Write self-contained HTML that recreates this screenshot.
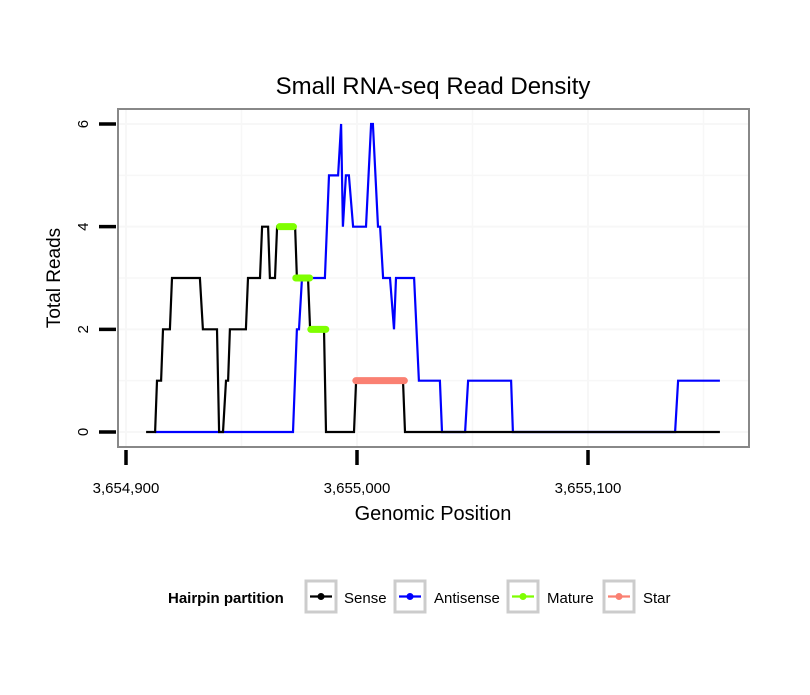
<!DOCTYPE html>
<html><head><meta charset="utf-8"><style>
body{margin:0;background:#fff;}
svg text{font-family:"Liberation Sans",sans-serif;}
</style></head><body>
<svg id="chart" width="810" height="690" viewBox="0 0 810 690">
<rect width="810" height="690" fill="#fff"/>
<text x="433" y="94" font-size="24" text-anchor="middle">Small RNA-seq Read Density</text>
<rect x="118" y="109" width="631" height="338" fill="#fff"/>
<g id="grid"></g>
<g id="marks"></g>
<rect x="118" y="109" width="631" height="338" fill="none" stroke="#888" stroke-width="2"/>
<g id="axes"></g>
<text x="433" y="520" font-size="20" text-anchor="middle">Genomic Position</text>
<text transform="translate(60,278) rotate(-90)" font-size="19" text-anchor="middle">Total Reads</text>
<g>
<text x="168" y="603" font-size="15" font-weight="bold">Hairpin partition</text>
<g id="legend"></g>
</g>
</svg>
<script>
const BASE = 3654900;
const xTicks = [3654900, 3655000, 3655100];
const xTickLabels = ["3,654,900", "3,655,000", "3,655,100"];
const yTicks = [0, 2, 4, 6];
const senseX = [8.7,12.6,13.4,15.2,16.0,19.0,19.9,32.0,33.3,39.4,40.3,42.0,43.3,44.2,45.0,51.9,52.8,58.0,58.9,61.5,62.3,64.5,65.4,73.2,74.0,78.8,79.7,85.7,86.6,98.7,99.6,119.9,120.8,257.1];
const senseY = [0,0,1,1,2,2,3,3,2,2,0,0,1,1,2,2,3,3,4,4,3,3,4,4,3,3,2,2,0,0,1,1,0,0];
const antiX = [12.6,72.3,74.0,74.9,76.2,86.1,87.9,91.8,93.1,93.9,95.2,96.5,98.3,103.9,106.1,106.9,109.1,110.0,111.3,114.3,116.0,116.9,124.7,126.8,135.9,136.8,146.8,148.1,166.7,167.5,237.7,239.0,257.1];
const antiY = [0,0,2,2,3,3,5,5,6,4,5,5,4,4,6,6,4,4,3,3,2,3,3,1,1,0,0,1,1,0,0,1,1];
const matureStart = [66.5, 73.5, 80.0];
const matureEnd = [72.5, 79.5, 86.5];
const matureVal = [4, 3, 2];
const starStart = [99.5];
const starEnd = [120.5];
const starVal = [1];
const legendLabels = ["Sense","Antisense","Mature","Star"];
const legendColors = ["#000","#0000ff","#7fff00","#fa8072"];

const NS="http://www.w3.org/2000/svg";
const sx = v => 126 + (v - BASE) * 2.31;
const sxo = o => sx(BASE + o);
const sy = v => 432 - v * 51.33;
function mk(tag, attrs, parent){const e=document.createElementNS(NS,tag);for(const k in attrs)e.setAttribute(k,attrs[k]);parent.appendChild(e);return e;}
const grid=document.getElementById('grid'), marks=document.getElementById('marks'), axes=document.getElementById('axes'), legend=document.getElementById('legend');
for(let v=BASE-50; v<=BASE+300; v+=50){const x=sx(v); if(x<119||x>748) continue;
  const l=mk('line',{x1:x,x2:x,y1:110,y2:446,stroke:'#f7f7f7','stroke-width':v%100===0?2:1.5},grid);
  
  }
for(let v=0; v<=6; v++){const y=sy(v);
  const l=mk('line',{x1:119,x2:748,y1:y,y2:y,stroke:'#f7f7f7','stroke-width':v%2===0?2:1.5},grid);
  
  }
function poly(xs, ys, color, name){
  const pts = xs.map((x,i)=>sxo(x).toFixed(1)+','+sy(ys[i]).toFixed(1)).join(' ');
  const p=mk('polyline',{points:pts,fill:'none',stroke:color,'stroke-width':2.2,'stroke-linejoin':'miter'},marks);
  
  
}
poly(antiX, antiY, '#0000ff', 'antisense-line');
poly(senseX, senseY, '#000', 'sense-line');
function segs(s,e,v,color,name){
  s.forEach((a,i)=>{const l=mk('line',{x1:sxo(a),x2:sxo(e[i]),y1:sy(v[i]),y2:sy(v[i]),stroke:color,'stroke-width':7,'stroke-linecap':'round'},marks);
    
    });
}
segs(matureStart, matureEnd, matureVal, '#7fff00', 'mature-segment');
segs(starStart, starEnd, starVal, '#fa8072', 'star-segment');
xTicks.forEach((v,i)=>{const x=sx(v);
  const t=mk('line',{x1:x,x2:x,y1:450,y2:465,stroke:'#000','stroke-width':3.5},axes);
  
  
  const tx=mk('text',{x:x,y:493,'font-size':15,'text-anchor':'middle'},axes); tx.textContent=xTickLabels[i];
  
  });
yTicks.forEach(v=>{const y=sy(v);
  const t=mk('line',{x1:99,x2:116,y1:y,y2:y,stroke:'#000','stroke-width':3.5},axes);
  
  
  const tx=mk('text',{transform:`translate(88,${y}) rotate(-90)`,'font-size':15,'text-anchor':'middle'},axes); tx.textContent=String(v);
  
  });
const boxX=[306,395,508,604], textX=[344,434,547,643];
legendLabels.forEach((lab,i)=>{
  const g=mk('g',{},legend);
  
  
  mk('rect',{x:boxX[i],y:581,width:30,height:31,fill:'#fff',stroke:'#ccc','stroke-width':3},g);
  mk('line',{x1:boxX[i]+4,x2:boxX[i]+26,y1:596.5,y2:596.5,stroke:legendColors[i],'stroke-width':2.2},g);
  mk('circle',{cx:boxX[i]+15,cy:596.5,r:3.5,fill:legendColors[i]},g);
  const t=mk('text',{x:textX[i],y:603,'font-size':15},g); t.textContent=lab;
});
</script>
</body></html>
